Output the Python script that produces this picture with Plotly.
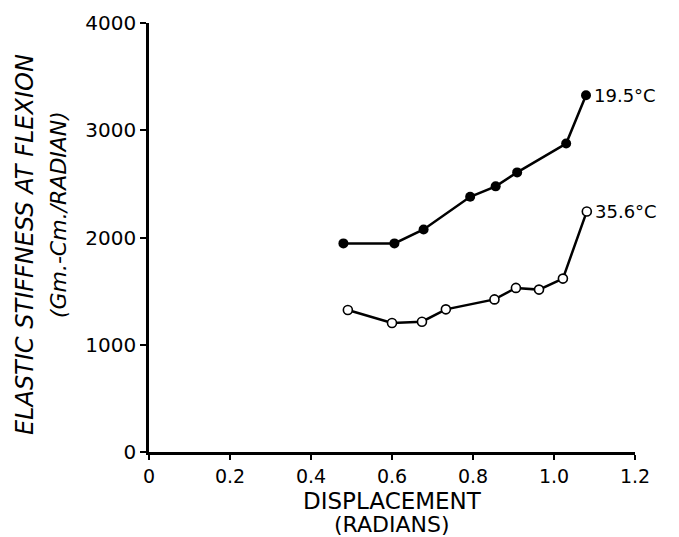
import plotly.graph_objects as go

# Data
x_19 = [0.48, 0.606, 0.678, 0.793, 0.856, 0.909, 1.030, 1.079]
y_19 = [1945, 1945, 2075, 2380, 2477, 2607, 2876, 3327]
x_35 = [0.491, 0.600, 0.674, 0.733, 0.853, 0.906, 0.963, 1.022, 1.081]
y_35 = [1324, 1203, 1215, 1330, 1423, 1530, 1514, 1617, 2243]
x_ticks = [0, 0.2, 0.4, 0.6, 0.8, 1.0, 1.2]
x_ticklabels = ["0", "0.2", "0.4", "0.6", "0.8", "1.0", "1.2"]
y_ticks = [0, 1000, 2000, 3000, 4000]
series_labels = ["19.5°C", "35.6°C"]

FONT = "DejaVu Sans"
fig = go.Figure()
fig.add_trace(go.Scatter(
    x=x_19, y=y_19, mode="lines+markers",
    line=dict(color="black", width=2.5),
    marker=dict(symbol="circle", size=10, color="black"),
    showlegend=False))
fig.add_trace(go.Scatter(
    x=x_35, y=y_35, mode="lines+markers",
    line=dict(color="black", width=2.5),
    marker=dict(symbol="circle", size=9, color="white", line=dict(color="black", width=1.6)),
    showlegend=False))

for xs, ys, lab in [(x_19, y_19, series_labels[0]), (x_35, y_35, series_labels[1])]:
    fig.add_annotation(x=xs[-1], y=ys[-1], text=lab, showarrow=False,
                       xanchor="left", yanchor="middle", xshift=6,
                       font=dict(family=FONT, size=18, color="black"))

fig.update_xaxes(range=[0, 1.2], tickvals=x_ticks, ticktext=x_ticklabels,
                 showline=True, linecolor="black", linewidth=2.5,
                 ticks="outside", ticklen=5, tickwidth=2, tickcolor="black",
                 showgrid=False, zeroline=False,
                 tickfont=dict(family=FONT, size=19, color="black"))
fig.update_yaxes(range=[0, 4000], tickvals=y_ticks,
                 showline=True, linecolor="black", linewidth=2.5,
                 ticks="outside", ticklen=6, tickwidth=2, tickcolor="black",
                 showgrid=False, zeroline=False,
                 tickfont=dict(family=FONT, size=20, color="black"))

# Axis titles as annotations for precise placement
fig.add_annotation(xref="paper", yref="paper", x=0.5, y=-0.1096, yshift=-2,
                   text="DISPLACEMENT", showarrow=False,
                   xanchor="center", yanchor="middle",
                   font=dict(family=FONT, size=23, color="black"))
fig.add_annotation(xref="paper", yref="paper", x=0.5, y=-0.1725, yshift=2,
                   text="(RADIANS)", showarrow=False,
                   xanchor="center", yanchor="middle",
                   font=dict(family=FONT, size=22, color="black"))
fig.add_annotation(xref="paper", yref="paper", x=-0.255, y=0.4825,
                   text="<i>ELASTIC STIFFNESS AT FLEXION</i>", showarrow=False,
                   textangle=-90, xanchor="center", yanchor="middle",
                   font=dict(family=FONT, size=24, color="black"))
fig.add_annotation(xref="paper", yref="paper", x=-0.187, y=0.5524,
                   text="<i>(Gm.-Cm./RADIAN)</i>", showarrow=False,
                   textangle=-90, xanchor="center", yanchor="middle",
                   font=dict(family=FONT, size=22, color="black"))

fig.update_layout(width=679, height=537,
                  margin=dict(l=149, r=44, t=23, b=85),
                  plot_bgcolor="white", paper_bgcolor="white")
fig.write_html("out.html")
